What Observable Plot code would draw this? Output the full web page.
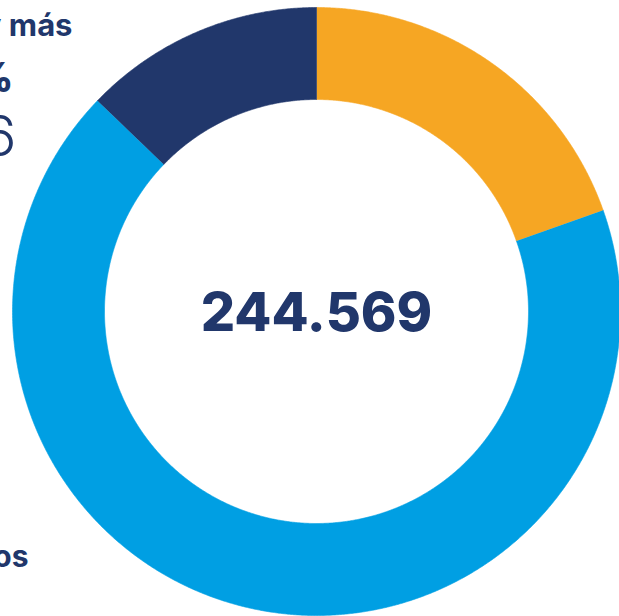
<!DOCTYPE html>
<html>
<head>
<meta charset="utf-8">
<script src="https://cdn.jsdelivr.net/npm/d3@7"></script>
<script src="https://cdn.jsdelivr.net/npm/@observablehq/plot@0.6"></script>
<style>
  html, body { margin: 0; padding: 0; background: #fff; }
  #chart { width: 619px; height: 616px; overflow: hidden; }
</style>
</head>
<body>
<div id="chart"></div>
<script>
// Data (clockwise from 12 o'clock)
const categories = ["0 a 14 años", "15 a 64 años", "65 años y más"];
const values = [47935, 165328, 31306];
const colors = ["#F6A623", "#009FE3", "#21376B"];
const total = 244569;

// Layout
const W = 619, H = 616;
const cx = 316, cy = 311, R = 304;   // centre and outer radius in px
const innerRatio = 212 / 304;

const fmt = d3.formatLocale({decimal: ",", thousands: ".", grouping: [3]});
const fmtInt = fmt.format(",d");
const fmtPct = v => fmt.format(".1f")(v) + "%";

// Build slice polygons from data
const pie = d3.pie().sort(null).value(d => d.value);
const slices = pie(categories.map((c, i) => ({cat: c, value: values[i]})));
const pts = [];
for (const s of slices) {
  const n = Math.max(2, Math.ceil((s.endAngle - s.startAngle) / 0.005));
  for (let k = 0; k <= n; k++) {
    const a = s.startAngle + (s.endAngle - s.startAngle) * k / n;
    pts.push({cat: s.data.cat, x: Math.sin(a), y: Math.cos(a)});
  }
  for (let k = n; k >= 0; k--) {
    const a = s.startAngle + (s.endAngle - s.startAngle) * k / n;
    pts.push({cat: s.data.cat, x: innerRatio * Math.sin(a), y: innerRatio * Math.cos(a)});
  }
}

const font = "Inter, 'Open Sans', sans-serif";
const navy = "#21376B";
const share = values[2] / total * 100;

const chart = Plot.plot({
  width: W,
  height: H,
  margin: 0,
  style: {fontFamily: font, background: "#fff"},
  x: {domain: [-cx / R, (W - cx) / R], axis: null},
  y: {domain: [-(H - cy) / R, cy / R], axis: null},
  color: {domain: categories, range: colors},
  marks: [
    Plot.line(pts, {x: "x", y: "y", z: "cat", fill: "cat", stroke: "cat", strokeWidth: 0.6, curve: "linear"}),
    Plot.text([total], {x: () => 0, y: () => 0, text: d => fmtInt(d), fontSize: 54, fontWeight: 800, fill: navy, dy: 2}),
    // labels cut off at the left edge
    Plot.text([categories[2]], {frameAnchor: "top-left", textAnchor: "end", dx: 72, dy: 13, fontSize: 31, fontWeight: 700, fill: navy}),
    Plot.text([fmtPct(share)], {frameAnchor: "top-left", textAnchor: "end", dx: 13, dy: 62, fontSize: 40, fontWeight: 800, fill: navy}),
    Plot.text([fmtInt(values[2])], {frameAnchor: "top-left", textAnchor: "end", dx: 16, dy: 116, fontSize: 56, fontWeight: 300, fill: navy}),
    Plot.text([categories[1]], {frameAnchor: "top-left", textAnchor: "end", dx: 28, dy: 545, fontSize: 30, fontWeight: 700, fill: navy})
  ]
});
document.getElementById("chart").appendChild(chart);
</script>
</body>
</html>
